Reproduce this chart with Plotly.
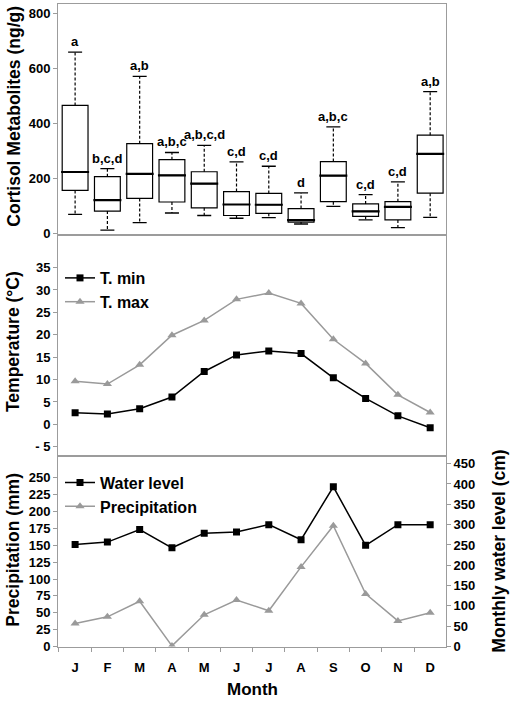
import plotly.graph_objects as go

# ---------------- data ----------------
months = ["J", "F", "M", "A", "M", "J", "J", "A", "S", "O", "N", "D"]
idx = list(range(12))

# cortisol metabolites box statistics (ng/g)
c_lower = [71, 14, 41, 76, 67, 57, 59, 36, 100, 51, 23, 60]
c_q1 = [158, 83, 129, 116, 95, 67, 75, 43, 117, 64, 51, 148]
c_median = [225, 123, 218, 213, 183, 107, 106, 50, 212, 82, 98, 291]
c_q3 = [467, 208, 328, 270, 226, 154, 147, 92, 263, 109, 117, 359]
c_upper = [661, 237, 573, 296, 322, 262, 246, 149, 389, 143, 189, 517]
c_letters = ["a", "b,c,d", "a,b", "a,b,c", "a,b,c,d", "c,d", "c,d", "d",
             "a,b,c", "c,d", "c,d", "a,b"]

# temperature (°C)
t_min = [2.6, 2.3, 3.5, 6.1, 11.8, 15.5, 16.4, 15.8, 10.4, 5.8, 1.9, -0.75]
t_max = [9.6, 9.0, 13.3, 19.9, 23.2, 27.9, 29.3, 27.0, 19.0, 13.6, 6.6, 2.65]

# water level (cm, right axis) and precipitation (mm, left axis)
water_level = [251, 257, 288, 243, 279, 282, 300, 263, 393, 249, 300, 300]
precipitation = [34, 44, 67, 1, 47, 69, 53, 118, 179, 78, 38, 50]

temp_ticks = [-5, 0, 5, 10, 15, 20, 25, 30, 35]
temp_ticktext = ["- 5", "0", "5", "10", "15", "20", "25", "30", "35"]

# ---------------- style ----------------
FONT = "Liberation Sans, Arial, sans-serif"
FRAME = "#9c9c9c"
GREY = "#9a9a9a"
W, H = 510, 702
XD = [58 / W, 446 / W]
D_TOP = [1 - 238 / H, 1 - 4 / H]
D_MID = [1 - 461 / H, 1 - 238 / H]
D_BOT = [1 - 654 / H, 1 - 461 / H]
XR = [-0.53, 11.49]

fig = go.Figure()

# boxes (whiskers drawn separately as dashed lines)
fig.add_trace(go.Box(
    x=idx, q1=c_q1, median=c_median, q3=c_q3,
    lowerfence=c_q1, upperfence=c_q3,
    width=0.8, fillcolor="white", line=dict(color="black", width=1.2),
    whiskerwidth=0, showlegend=False, xaxis="x", yaxis="y", hoverinfo="skip"))

wx, wy = [], []
for i in idx:
    wx += [i, i, None, i, i, None]
    wy += [c_q3[i], c_upper[i], None, c_q1[i], c_lower[i], None]
fig.add_trace(go.Scatter(x=wx, y=wy, mode="lines",
                         line=dict(color="black", width=1.2, dash="3px,2px"),
                         showlegend=False, xaxis="x", yaxis="y", hoverinfo="skip"))
# whisker caps
fig.add_trace(go.Scatter(x=idx + idx, y=c_upper + c_lower, mode="markers",
                         marker=dict(symbol="line-ew", size=10,
                                     line=dict(color="black", width=1.3)),
                         showlegend=False, xaxis="x", yaxis="y", hoverinfo="skip"))
# thicker medians
fig.add_trace(go.Scatter(x=idx, y=c_median, mode="markers",
                         marker=dict(symbol="line-ew", size=20,
                                     line=dict(color="black", width=2.2)),
                         showlegend=False, xaxis="x", yaxis="y", hoverinfo="skip"))

# temperature
fig.add_trace(go.Scatter(x=idx, y=t_min, mode="lines+markers", name="T. min",
                         line=dict(color="black", width=1.5),
                         marker=dict(symbol="square", size=7, color="black"),
                         xaxis="x2", yaxis="y2", legend="legend"))
fig.add_trace(go.Scatter(x=idx, y=t_max, mode="lines+markers", name="T. max",
                         line=dict(color=GREY, width=1.5),
                         marker=dict(symbol="triangle-up", size=8, color=GREY),
                         xaxis="x2", yaxis="y2", legend="legend"))

# water level / precipitation
fig.add_trace(go.Scatter(x=idx, y=water_level, mode="lines+markers", name="Water level",
                         line=dict(color="black", width=1.5),
                         marker=dict(symbol="square", size=7, color="black"),
                         xaxis="x3", yaxis="y4", legend="legend2"))
fig.add_trace(go.Scatter(x=idx, y=precipitation, mode="lines+markers", name="Precipitation",
                         line=dict(color=GREY, width=1.5),
                         marker=dict(symbol="triangle-up", size=8, color=GREY),
                         xaxis="x3", yaxis="y3", legend="legend2"))

tickfont = dict(family=FONT, size=13, color="black", weight="bold")
common_y = dict(showgrid=False, zeroline=False, showline=True, linecolor=FRAME,
                linewidth=1, ticks="outside", ticklen=4, tickcolor=FRAME,
                tickfont=tickfont)
common_x = dict(domain=XD, range=XR, showgrid=False, zeroline=False,
                showline=True, linecolor=FRAME, linewidth=1, mirror=True)

annotations = []
for i in idx:
    annotations.append(dict(x=i, y=c_upper[i], xref="x", yref="y", text=c_letters[i],
                            showarrow=False, yanchor="bottom", yshift=1,
                            font=dict(family=FONT, size=13, color="black", weight="bold")))

title_font = dict(family=FONT, size=17.5, color="black", weight="bold")
annotations += [
    dict(x=14 / W, y=1 - 118 / H, xref="paper", yref="paper", text="Cortisol Metabolites (ng/g)",
         textangle=-90, showarrow=False, font=title_font, xanchor="center", yanchor="middle"),
    dict(x=13 / W, y=1 - 346 / H, xref="paper", yref="paper", text="Temperature (°C)",
         textangle=-90, showarrow=False, font=title_font, xanchor="center", yanchor="middle"),
    dict(x=13 / W, y=1 - 556 / H, xref="paper", yref="paper", text="Precipitation (mm)",
         textangle=-90, showarrow=False, font=title_font, xanchor="center", yanchor="middle"),
    dict(x=499 / W, y=1 - 558 / H, xref="paper", yref="paper", text="Monthly water level (cm)",
         textangle=-90, showarrow=False, font=title_font, xanchor="center", yanchor="middle"),
    dict(x=252 / W, y=1 - 697 / H, xref="paper", yref="paper", text="Month",
         showarrow=False, font=dict(family=FONT, size=17, color="black", weight="bold"),
         xanchor="center", yanchor="middle"),
]

legend_font = dict(family=FONT, size=16, color="black", weight="bold")

fig.update_layout(
    width=W, height=H, margin=dict(l=0, r=0, t=0, b=0),
    paper_bgcolor="white", plot_bgcolor="white",
    font=dict(family=FONT, color="black"),
    xaxis=dict(**common_x, anchor="y", showticklabels=False, ticks=""),
    yaxis=dict(**common_y, domain=D_TOP, range=[-5, 836], mirror=True,
               tickvals=[0, 200, 400, 600, 800], anchor="x"),
    xaxis2=dict(**common_x, anchor="y2", showticklabels=False, ticks=""),
    yaxis2=dict(**common_y, domain=D_MID, range=[-7.0, 42.2], mirror=True,
                tickvals=temp_ticks, ticktext=temp_ticktext, anchor="x2"),
    xaxis3=dict(**common_x, anchor="y3", tickvals=idx, ticktext=months,
                ticks="outside", ticklen=9, tickcolor="rgba(0,0,0,0)",
                tickfont=tickfont,
                minor=dict(tick0=0.5, dtick=1, ticks="outside", ticklen=4, tickcolor=FRAME)),
    yaxis3=dict(**common_y, domain=D_BOT, range=[0, 282.6],
                tickvals=list(range(0, 251, 25)), anchor="x3"),
    yaxis4=dict(**common_y, range=[0, 469.5], overlaying="y3", side="right",
                tickvals=list(range(0, 451, 50)), anchor="x3"),
    legend=dict(x=60 / W, y=1 - 264 / H, xanchor="left", yanchor="top",
                bgcolor="rgba(0,0,0,0)", font=legend_font, borderwidth=0,
                tracegroupgap=0),
    legend2=dict(x=60 / W, y=1 - 471 / H, xanchor="left", yanchor="top",
                 bgcolor="rgba(0,0,0,0)", font=legend_font, borderwidth=0,
                 tracegroupgap=0),
    annotations=annotations,
)

fig.write_html("out.html",
               config={"displayModeBar": False},
               post_script="document.body.style.margin='0';"
                           "document.body.style.overflow='hidden';")
